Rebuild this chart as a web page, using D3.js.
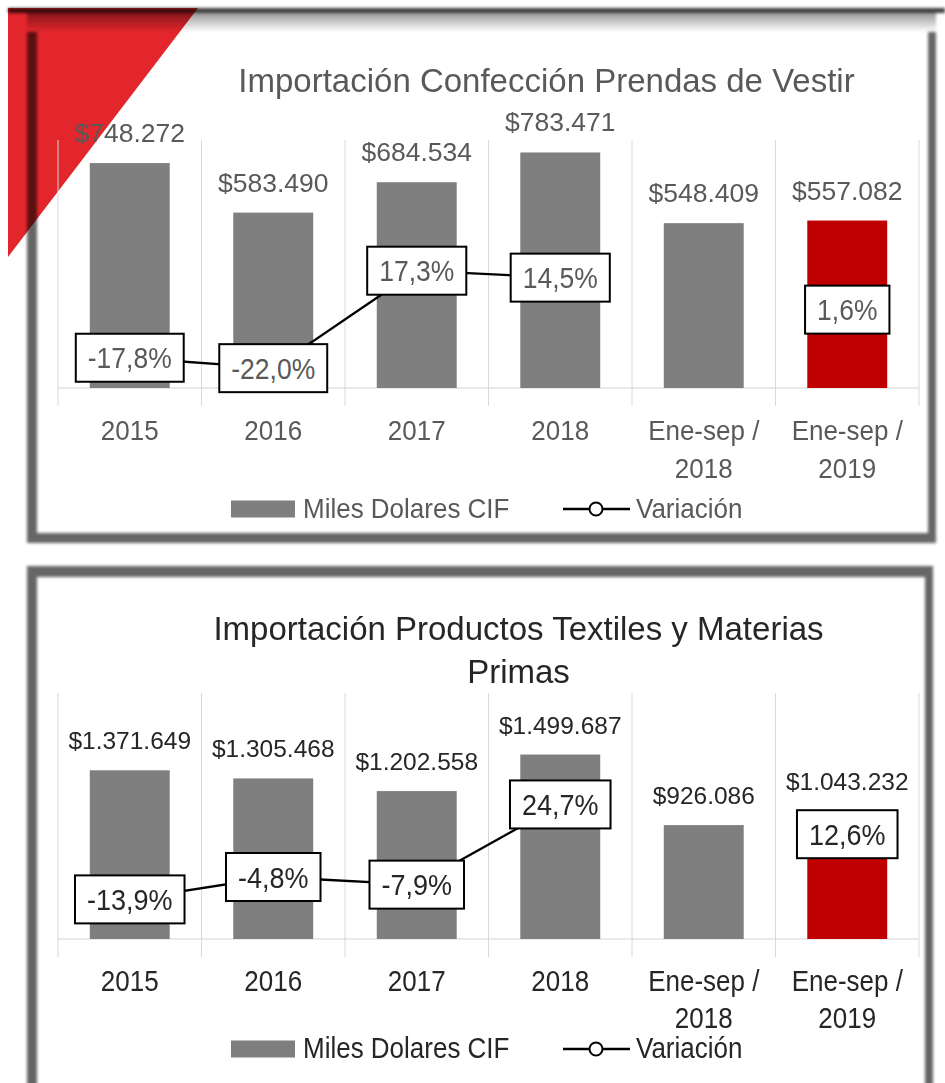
<!DOCTYPE html>
<html lang="es">
<head>
<meta charset="utf-8">
<title>Importación confección y textiles</title>
<script src="https://cdn.jsdelivr.net/npm/d3@7"></script>
<style>
  html, body { margin: 0; padding: 0; background: #fff; }
  svg { display: block; font-family: "Liberation Sans", Arial, Helvetica, sans-serif; }
</style>
</head>
<body>
<svg id="chart" width="945" height="1083"></svg>
<script>
// datos
var categorias = ["2015", "2016", "2017", "2018", "Ene-sep / 2018", "Ene-sep / 2019"];
var confeccionCIF = [748272, 583490, 684534, 783471, 548409, 557082];
var confeccionVariacion = [-17.8, -22.0, 17.3, 14.5, null, 1.6];
var textilesCIF = [1371649, 1305468, 1202558, 1499687, 926086, 1043232];
var textilesVariacion = [-13.9, -4.8, -7.9, 24.7, null, 12.6];
var destacada = "Ene-sep / 2019";
var leyenda = ["Miles Dolares CIF", "Variación"];

var es = d3.formatLocale({decimal: ",", thousands: ".", grouping: [3], currency: ["$", ""], minus: "-"});
var fmtMoneda = es.format("$,.0f");
var fmtUno = es.format(".1f");
function fmtPct(v) { return fmtUno(v) + "%"; }

var svg = d3.select("#chart");
var defs = svg.append("defs");

defs.append("filter").attr("id", "suave")
    .attr("x", "-5%").attr("y", "-5%").attr("width", "110%").attr("height", "110%")
  .append("feGaussianBlur").attr("stdDeviation", 1.6);

var grad = defs.append("linearGradient").attr("id", "bordeSup")
    .attr("x1", 0).attr("y1", 0).attr("x2", 0).attr("y2", 1);
grad.append("stop").attr("offset", 0).attr("stop-color", "#000").attr("stop-opacity", 0.4);
grad.append("stop").attr("offset", 1).attr("stop-color", "#000").attr("stop-opacity", 0);

// esquina roja
svg.append("path")
    .attr("d", "M8,8L198,8L8,257Z")
    .attr("fill", "#e2262c");

// marcos
function anillo(o, i) {
  return "M" + o[0] + "," + o[1] + "H" + o[2] + "V" + o[3] + "H" + o[0] + "Z" +
         "M" + i[0] + "," + i[1] + "H" + i[2] + "V" + i[3] + "H" + i[0] + "Z";
}
var marcos = svg.append("g").attr("filter", "url(#suave)");
marcos.append("rect").attr("x", 8).attr("y", 8).attr("width", 937).attr("height", 5)
    .attr("fill", "#000").attr("opacity", 0.75);
marcos.append("path")
    .attr("d", anillo([27, 32, 936, 543], [37, 32, 928, 533]))
    .attr("fill", "#000").attr("fill-rule", "evenodd").attr("opacity", 0.6);
marcos.append("rect").attr("x", 27).attr("y", 13).attr("width", 909).attr("height", 19)
    .attr("fill", "url(#bordeSup)");
marcos.append("path")
    .attr("d", anillo([27, 566, 933, 1110], [37, 577, 925, 1100]))
    .attr("fill", "#000").attr("fill-rule", "evenodd").attr("opacity", 0.6);

function estirar(sel, y, s) {
  sel.attr("y", y / s).attr("transform", s === 1 ? null : "scale(1," + s + ")");
}

function grafico(cfg) {
  var g = svg.append("g");
  var n = categorias.map(function(c, i) { return {c: c, v: cfg.valores[i], p: cfg.variacion[i]}; });

  var x = d3.scaleBand().domain(categorias).range([58, 919]).paddingInner(0).paddingOuter(0);
  var bw = x.bandwidth();
  var barW = bw * 0.557;
  var y = d3.scaleLinear().domain([0, cfg.yMax]).range([cfg.base, cfg.top]);
  var y2 = d3.scaleLinear().domain([-30, 70]).range([cfg.base, cfg.top]);

  // titulo
  cfg.titulo.forEach(function(t, i) {
    g.append("text")
      .attr("x", cfg.tituloX).attr("y", cfg.tituloY[i])
      .attr("text-anchor", "middle")
      .attr("font-size", cfg.tituloSize)
      .attr("fill", cfg.color)
      .text(t);
  });

  // divisiones de categorias
  var bordes = categorias.map(function(c) { return x(c); }).concat([x.range()[1]]);
  g.append("g").selectAll("line").data(bordes).enter().append("line")
    .attr("x1", function(d) { return d; }).attr("x2", function(d) { return d; })
    .attr("y1", cfg.top).attr("y2", cfg.base + 18)
    .attr("stroke", "#dadada").attr("stroke-width", 1);
  g.append("line")
    .attr("x1", x.range()[0]).attr("x2", x.range()[1])
    .attr("y1", cfg.base).attr("y2", cfg.base)
    .attr("stroke", "#d4d4d4").attr("stroke-width", 1.2);

  // barras
  g.append("g").selectAll("rect").data(n).enter().append("rect")
    .attr("x", function(d) { return x(d.c) + (bw - barW) / 2; })
    .attr("y", function(d) { return y(d.v); })
    .attr("width", barW)
    .attr("height", function(d) { return cfg.base - y(d.v); })
    .attr("fill", function(d) { return d.c === destacada ? "#c00000" : "#7f7f7f"; });

  g.append("g").selectAll("text").data(n).enter().append("text")
    .attr("x", function(d) { return x(d.c) + bw / 2; })
    .attr("y", function(d) { return y(d.v) - 21; })
    .attr("text-anchor", "middle")
    .attr("font-size", cfg.valorSize)
    .attr("fill", cfg.color)
    .text(function(d) { return fmtMoneda(d.v); });

  // eje x
  var ax = g.append("g")
    .attr("transform", "translate(0," + cfg.base + ")")
    .call(d3.axisBottom(x).tickSize(0).tickPadding(0))
    .attr("font-family", null)
    .attr("font-size", 26);
  ax.select(".domain").remove();
  ax.selectAll(".tick text").each(function(d) {
    var t = d3.select(this);
    var partes = d.indexOf(" / ") >= 0 ? [d.split(" / ")[0] + " /", d.split(" / ")[1]] : [d];
    t.text(null).attr("dy", null).attr("fill", cfg.color);
    estirar(t, 0, cfg.estira);
    partes.forEach(function(p, i) {
      t.append("tspan").attr("x", 0)
        .attr("y", (cfg.ejeY - cfg.base + i * cfg.ejeSalto) / cfg.estira)
        .text(p);
    });
  });

  // linea de variacion
  var linea = d3.line()
    .defined(function(d) { return d.p != null; })
    .x(function(d) { return x(d.c) + bw / 2; })
    .y(function(d) { return y2(d.p); });
  g.append("path").datum(n)
    .attr("d", linea)
    .attr("fill", "none").attr("stroke", "#000").attr("stroke-width", 2.3);

  var pts = g.append("g").selectAll("g").data(n.filter(function(d) { return d.p != null; }))
    .enter().append("g")
    .attr("transform", function(d) { return "translate(" + (x(d.c) + bw / 2) + "," + y2(d.p) + ")"; });
  pts.append("circle").attr("r", 5).attr("fill", "#fff").attr("stroke", "#000").attr("stroke-width", 2);
  pts.each(function(d) {
    var p = d3.select(this);
    var caja = p.append("rect");
    var t = p.append("text")
      .attr("text-anchor", "middle")
      .attr("font-size", cfg.pctSize)
      .attr("fill", cfg.color)
      .text(fmtPct(d.p));
    estirar(t, cfg.pctSize * 0.36 * 1.1, 1.1);
    var w = t.node().getComputedTextLength() + 24;
    caja.attr("x", -w / 2).attr("y", -24).attr("width", w).attr("height", 48)
      .attr("fill", "#fff").attr("stroke", "#000").attr("stroke-width", 2);
  });

  // leyenda
  var ly = cfg.leyendaY;
  var lg = g.append("g").attr("font-size", 26).attr("fill", cfg.color);
  lg.append("rect").attr("x", 231).attr("y", ly - 8.5).attr("width", 64).attr("height", 17).attr("fill", "#7f7f7f");
  estirar(lg.append("text").attr("x", 303).text(leyenda[0]), ly + 9, cfg.estira);
  lg.append("line").attr("x1", 563).attr("x2", 630).attr("y1", ly).attr("y2", ly)
    .attr("stroke", "#000").attr("stroke-width", 2.3);
  lg.append("circle").attr("cx", 596).attr("cy", ly).attr("r", 6.5)
    .attr("fill", "#fff").attr("stroke", "#000").attr("stroke-width", 2);
  estirar(lg.append("text").attr("x", 636).text(leyenda[1]), ly + 9, cfg.estira);
}

grafico({
  valores: confeccionCIF, variacion: confeccionVariacion,
  titulo: ["Importación Confección Prendas de Vestir"], tituloX: 546.5, tituloY: [92], tituloSize: 33,
  color: "#595959", top: 140, base: 388, yMax: 825000,
  valorSize: 26.5, pctSize: 26.5,
  ejeY: 440, ejeSalto: 38, estira: 1.05, leyendaY: 509
});

grafico({
  valores: textilesCIF, variacion: textilesVariacion,
  titulo: ["Importación Productos Textiles y Materias", "Primas"], tituloX: 518.5, tituloY: [640, 683], tituloSize: 33,
  color: "#262626", top: 693, base: 939, yMax: 2000000,
  valorSize: 24.5, pctSize: 27,
  ejeY: 991, ejeSalto: 37, estira: 1.15, leyendaY: 1049
});
</script>
</body>
</html>
